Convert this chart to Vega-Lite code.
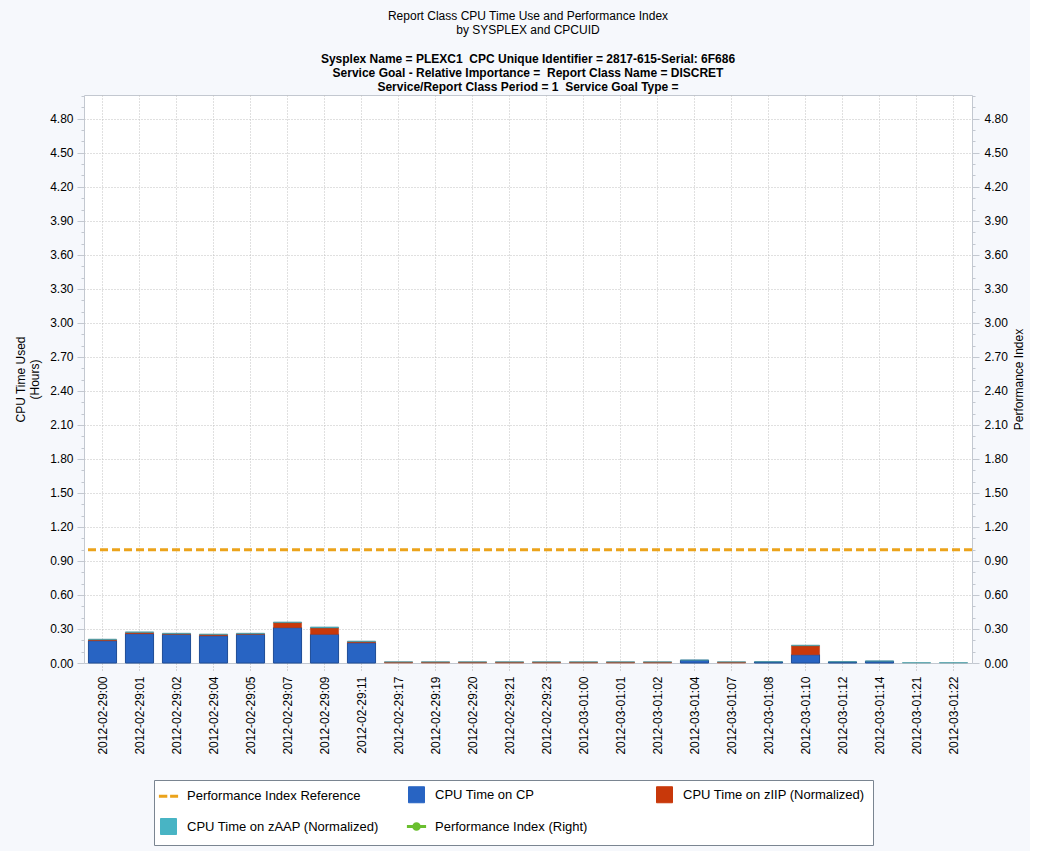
{
  "$schema": "https://vega.github.io/schema/vega-lite/v6.json",
  "width": 888,
  "height": 568,
  "padding": {"left": 14, "top": 10, "right": 5, "bottom": 5},
  "background": "#f6f8fc",
  "title": {
    "text": ["Report Class CPU Time Use and Performance Index", "by SYSPLEX and CPCUID"],
    "subtitle": ["Sysplex Name = PLEXC1\u00a0 CPC Unique Identifier = 2817-615-Serial: 6F686", "Service Goal - Relative Importance =\u00a0 Report Class Name = DISCRET", "Service/Report Class Period = 1\u00a0 Service Goal Type ="],
    "anchor": "middle",
    "font": "Liberation Sans",
    "fontSize": 12,
    "fontWeight": "normal",
    "lineHeight": 14,
    "color": "#000000",
    "subtitleFont": "Liberation Sans",
    "subtitleFontSize": 12,
    "subtitleFontWeight": "bold",
    "subtitleLineHeight": 14,
    "subtitleColor": "#000000",
    "subtitlePadding": 17,
    "offset": 1
  },
  "config": {
    "view": {"stroke": "#c3c8d0", "fill": "#ffffff"},
    "axis": {
      "labelFont": "Liberation Sans",
      "labelFontSize": 12,
      "labelColor": "#000000",
      "titleFont": "Liberation Sans",
      "titleFontSize": 12,
      "titleFontWeight": "normal",
      "titleColor": "#000000",
      "domainColor": "#c3c8d0",
      "tickColor": "#c3c8d0",
      "gridColor": "#c0c0c0",
      "gridDash": [1, 2]
    }
  },
  "layer": [
    {
      "data": {
        "values": [
          {"t": "2012-02-29:00", "series": "CPU Time on CP", "k": 1, "hours": 0.197},
          {"t": "2012-02-29:00", "series": "CPU Time on zIIP (Normalized)", "k": 2, "hours": 0.008},
          {"t": "2012-02-29:00", "series": "CPU Time on zAAP (Normalized)", "k": 3, "hours": 0.006},
          {"t": "2012-02-29:01", "series": "CPU Time on CP", "k": 1, "hours": 0.259},
          {"t": "2012-02-29:01", "series": "CPU Time on zIIP (Normalized)", "k": 2, "hours": 0.01},
          {"t": "2012-02-29:01", "series": "CPU Time on zAAP (Normalized)", "k": 3, "hours": 0.006},
          {"t": "2012-02-29:02", "series": "CPU Time on CP", "k": 1, "hours": 0.253},
          {"t": "2012-02-29:02", "series": "CPU Time on zIIP (Normalized)", "k": 2, "hours": 0.004},
          {"t": "2012-02-29:02", "series": "CPU Time on zAAP (Normalized)", "k": 3, "hours": 0.006},
          {"t": "2012-02-29:04", "series": "CPU Time on CP", "k": 1, "hours": 0.241},
          {"t": "2012-02-29:04", "series": "CPU Time on zIIP (Normalized)", "k": 2, "hours": 0.01},
          {"t": "2012-02-29:04", "series": "CPU Time on zAAP (Normalized)", "k": 3, "hours": 0.005},
          {"t": "2012-02-29:05", "series": "CPU Time on CP", "k": 1, "hours": 0.253},
          {"t": "2012-02-29:05", "series": "CPU Time on zIIP (Normalized)", "k": 2, "hours": 0.004},
          {"t": "2012-02-29:05", "series": "CPU Time on zAAP (Normalized)", "k": 3, "hours": 0.006},
          {"t": "2012-02-29:07", "series": "CPU Time on CP", "k": 1, "hours": 0.312},
          {"t": "2012-02-29:07", "series": "CPU Time on zIIP (Normalized)", "k": 2, "hours": 0.044},
          {"t": "2012-02-29:07", "series": "CPU Time on zAAP (Normalized)", "k": 3, "hours": 0.006},
          {"t": "2012-02-29:09", "series": "CPU Time on CP", "k": 1, "hours": 0.253},
          {"t": "2012-02-29:09", "series": "CPU Time on zIIP (Normalized)", "k": 2, "hours": 0.056},
          {"t": "2012-02-29:09", "series": "CPU Time on zAAP (Normalized)", "k": 3, "hours": 0.009},
          {"t": "2012-02-29:11", "series": "CPU Time on CP", "k": 1, "hours": 0.179},
          {"t": "2012-02-29:11", "series": "CPU Time on zIIP (Normalized)", "k": 2, "hours": 0.009},
          {"t": "2012-02-29:11", "series": "CPU Time on zAAP (Normalized)", "k": 3, "hours": 0.006},
          {"t": "2012-02-29:17", "series": "CPU Time on zIIP (Normalized)", "k": 2, "hours": 0.008},
          {"t": "2012-02-29:17", "series": "CPU Time on zAAP (Normalized)", "k": 3, "hours": 0.003},
          {"t": "2012-02-29:19", "series": "CPU Time on zIIP (Normalized)", "k": 2, "hours": 0.008},
          {"t": "2012-02-29:19", "series": "CPU Time on zAAP (Normalized)", "k": 3, "hours": 0.003},
          {"t": "2012-02-29:20", "series": "CPU Time on zIIP (Normalized)", "k": 2, "hours": 0.008},
          {"t": "2012-02-29:20", "series": "CPU Time on zAAP (Normalized)", "k": 3, "hours": 0.003},
          {"t": "2012-02-29:21", "series": "CPU Time on zIIP (Normalized)", "k": 2, "hours": 0.008},
          {"t": "2012-02-29:21", "series": "CPU Time on zAAP (Normalized)", "k": 3, "hours": 0.003},
          {"t": "2012-02-29:23", "series": "CPU Time on zIIP (Normalized)", "k": 2, "hours": 0.008},
          {"t": "2012-02-29:23", "series": "CPU Time on zAAP (Normalized)", "k": 3, "hours": 0.003},
          {"t": "2012-03-01:00", "series": "CPU Time on zIIP (Normalized)", "k": 2, "hours": 0.008},
          {"t": "2012-03-01:00", "series": "CPU Time on zAAP (Normalized)", "k": 3, "hours": 0.003},
          {"t": "2012-03-01:01", "series": "CPU Time on zIIP (Normalized)", "k": 2, "hours": 0.008},
          {"t": "2012-03-01:01", "series": "CPU Time on zAAP (Normalized)", "k": 3, "hours": 0.003},
          {"t": "2012-03-01:02", "series": "CPU Time on zIIP (Normalized)", "k": 2, "hours": 0.008},
          {"t": "2012-03-01:02", "series": "CPU Time on zAAP (Normalized)", "k": 3, "hours": 0.003},
          {"t": "2012-03-01:04", "series": "CPU Time on CP", "k": 1, "hours": 0.024},
          {"t": "2012-03-01:04", "series": "CPU Time on zAAP (Normalized)", "k": 3, "hours": 0.003},
          {"t": "2012-03-01:07", "series": "CPU Time on zIIP (Normalized)", "k": 2, "hours": 0.008},
          {"t": "2012-03-01:07", "series": "CPU Time on zAAP (Normalized)", "k": 3, "hours": 0.003},
          {"t": "2012-03-01:08", "series": "CPU Time on CP", "k": 1, "hours": 0.009},
          {"t": "2012-03-01:08", "series": "CPU Time on zAAP (Normalized)", "k": 3, "hours": 0.003},
          {"t": "2012-03-01:10", "series": "CPU Time on CP", "k": 1, "hours": 0.073},
          {"t": "2012-03-01:10", "series": "CPU Time on zIIP (Normalized)", "k": 2, "hours": 0.079},
          {"t": "2012-03-01:10", "series": "CPU Time on zAAP (Normalized)", "k": 3, "hours": 0.006},
          {"t": "2012-03-01:12", "series": "CPU Time on CP", "k": 1, "hours": 0.009},
          {"t": "2012-03-01:12", "series": "CPU Time on zAAP (Normalized)", "k": 3, "hours": 0.003},
          {"t": "2012-03-01:14", "series": "CPU Time on CP", "k": 1, "hours": 0.015},
          {"t": "2012-03-01:14", "series": "CPU Time on zAAP (Normalized)", "k": 3, "hours": 0.004},
          {"t": "2012-03-01:21", "series": "CPU Time on zAAP (Normalized)", "k": 3, "hours": 0.004},
          {"t": "2012-03-01:22", "series": "CPU Time on zAAP (Normalized)", "k": 3, "hours": 0.004}
        ]
      },
      "mark": {"type": "bar"},
      "encoding": {
        "x": {
          "field": "t",
          "type": "nominal",
          "sort": null,
          "scale": {"paddingInner": 0.24, "paddingOuter": 0.12},
          "axis": {
            "title": null,
            "labelAngle": -90,
            "labelPadding": 6,
            "tickSize": 7,
            "tickDash": [1, 2],
            "tickColor": "#b0b0b0",
            "grid": true,
            "bandPosition": 0.5,
            "domain": false
          }
        },
        "y": {
          "field": "hours",
          "type": "quantitative",
          "stack": "zero",
          "scale": {"domain": [0, 5.01], "nice": false},
          "axis": {
            "title": ["CPU Time Used", "(Hours)"],
            "titlePadding": 8,
            "values": [0, 0.1, 0.2, 0.3, 0.4, 0.5, 0.6, 0.7, 0.8, 0.9, 1.0, 1.1, 1.2, 1.3, 1.4, 1.5, 1.6, 1.7, 1.8, 1.9, 2.0, 2.1, 2.2, 2.3, 2.4, 2.5, 2.6, 2.7, 2.8, 2.9, 3.0, 3.1, 3.2, 3.3, 3.4, 3.5, 3.6, 3.7, 3.8, 3.9, 4.0, 4.1, 4.2, 4.3, 4.4, 4.5, 4.6, 4.7, 4.8, 4.9, 5.0],
            "labelExpr": "round(datum.value * 10) % 3 == 0 ? format(datum.value, '.2f') : ''",
            "tickSize": {"condition": {"test": "round(datum.value * 10) % 3 == 0", "value": 7}, "value": 3},
            "gridOpacity": {"condition": {"test": "round(datum.value * 10) % 3 == 0 && datum.value > 0", "value": 1}, "value": 0},
            "labelPadding": 4,
            "grid": true,
            "domain": false
          }
        },
        "color": {
          "field": "series",
          "type": "nominal",
          "scale": {
            "domain": ["Performance Index Reference", "CPU Time on CP", "CPU Time on zIIP (Normalized)", "CPU Time on zAAP (Normalized)", "Performance Index (Right)"],
            "range": ["#eba31b", "#2864c3", "#c8380a", "#48b4c4", "#6abf2f"]
          },
          "legend": {
            "title": null,
            "orient": "none",
            "legendX": 70,
            "legendY": 685,
            "direction": "horizontal",
            "columns": 3,
            "gridAlign": "all",
            "columnPadding": 21,
            "rowPadding": 11,
            "padding": 8,
            "symbolSize": 256,
            "labelOffset": 12,
            "labelFont": "Liberation Sans",
            "labelFontSize": 13,
            "labelColor": "#000000",
            "labelLimit": 0,
            "strokeColor": "#7a8591",
            "fillColor": "#ffffff",
            "encode": {
              "symbols": {
                "update": {
                  "shape": {"signal": "datum.label === 'Performance Index Reference' ? 'M-1.2,0H-0.15M0.2,0H1.2' : datum.label === 'Performance Index (Right)' ? 'M-1.2,0H1.2M0.35,0A0.35,0.35 0 1 1 -0.35,0A0.35,0.35 0 1 1 0.35,0Z' : 'square'"},
                  "fill": {"signal": "datum.label === 'Performance Index Reference' ? 'transparent' : datum.label === 'CPU Time on CP' ? '#2864c3' : datum.label === 'CPU Time on zIIP (Normalized)' ? '#c8380a' : datum.label === 'CPU Time on zAAP (Normalized)' ? '#48b4c4' : '#6abf2f'"},
                  "stroke": {"signal": "datum.label === 'Performance Index Reference' ? '#eba31b' : datum.label === 'CPU Time on CP' ? '#1e4c96' : datum.label === 'CPU Time on zIIP (Normalized)' ? '#9a2a06' : datum.label === 'CPU Time on zAAP (Normalized)' ? '#2e8b99' : '#6abf2f'"},
                  "strokeWidth": {"signal": "datum.label === 'Performance Index Reference' || datum.label === 'Performance Index (Right)' ? 3 : 1"},
                  "opacity": {"value": 1},
                  "fillOpacity": {"value": 1}
                }
              }
            }
          }
        },
        "stroke": {
          "field": "series",
          "type": "nominal",
          "scale": {
            "domain": ["CPU Time on CP", "CPU Time on zIIP (Normalized)", "CPU Time on zAAP (Normalized)"],
            "range": ["#1e4c96", "#c03508", "#3f8f96"]
          },
          "legend": null
        },
        "strokeWidth": {
          "condition": {"test": "datum.series === 'CPU Time on CP'", "value": 1},
          "value": 0.5
        },
        "order": {"field": "k", "type": "quantitative", "sort": "ascending"}
      }
    },
    {
      "data": {"values": [{"ref": 1.0}]},
      "mark": {"type": "rule", "strokeWidth": 3, "strokeDash": [8, 4]},
      "encoding": {
        "y": {
          "field": "ref",
          "type": "quantitative",
          "scale": {"domain": [0, 5.01], "nice": false},
          "axis": {
            "orient": "right",
            "title": "Performance Index",
            "titleAngle": 270,
            "titleBaseline": "top",
            "titlePadding": 6,
            "values": [0, 0.1, 0.2, 0.3, 0.4, 0.5, 0.6, 0.7, 0.8, 0.9, 1.0, 1.1, 1.2, 1.3, 1.4, 1.5, 1.6, 1.7, 1.8, 1.9, 2.0, 2.1, 2.2, 2.3, 2.4, 2.5, 2.6, 2.7, 2.8, 2.9, 3.0, 3.1, 3.2, 3.3, 3.4, 3.5, 3.6, 3.7, 3.8, 3.9, 4.0, 4.1, 4.2, 4.3, 4.4, 4.5, 4.6, 4.7, 4.8, 4.9, 5.0],
            "labelExpr": "round(datum.value * 10) % 3 == 0 ? format(datum.value, '.2f') : ''",
            "tickSize": {"condition": {"test": "round(datum.value * 10) % 3 == 0", "value": 7}, "value": 3},
            "labelPadding": 5,
            "grid": false,
            "domain": false
          }
        },
        "color": {"datum": "Performance Index Reference", "type": "nominal"}
      }
    }
  ],
  "resolve": {"scale": {"y": "independent", "stroke": "independent"}, "axis": {"y": "independent"}}
}
